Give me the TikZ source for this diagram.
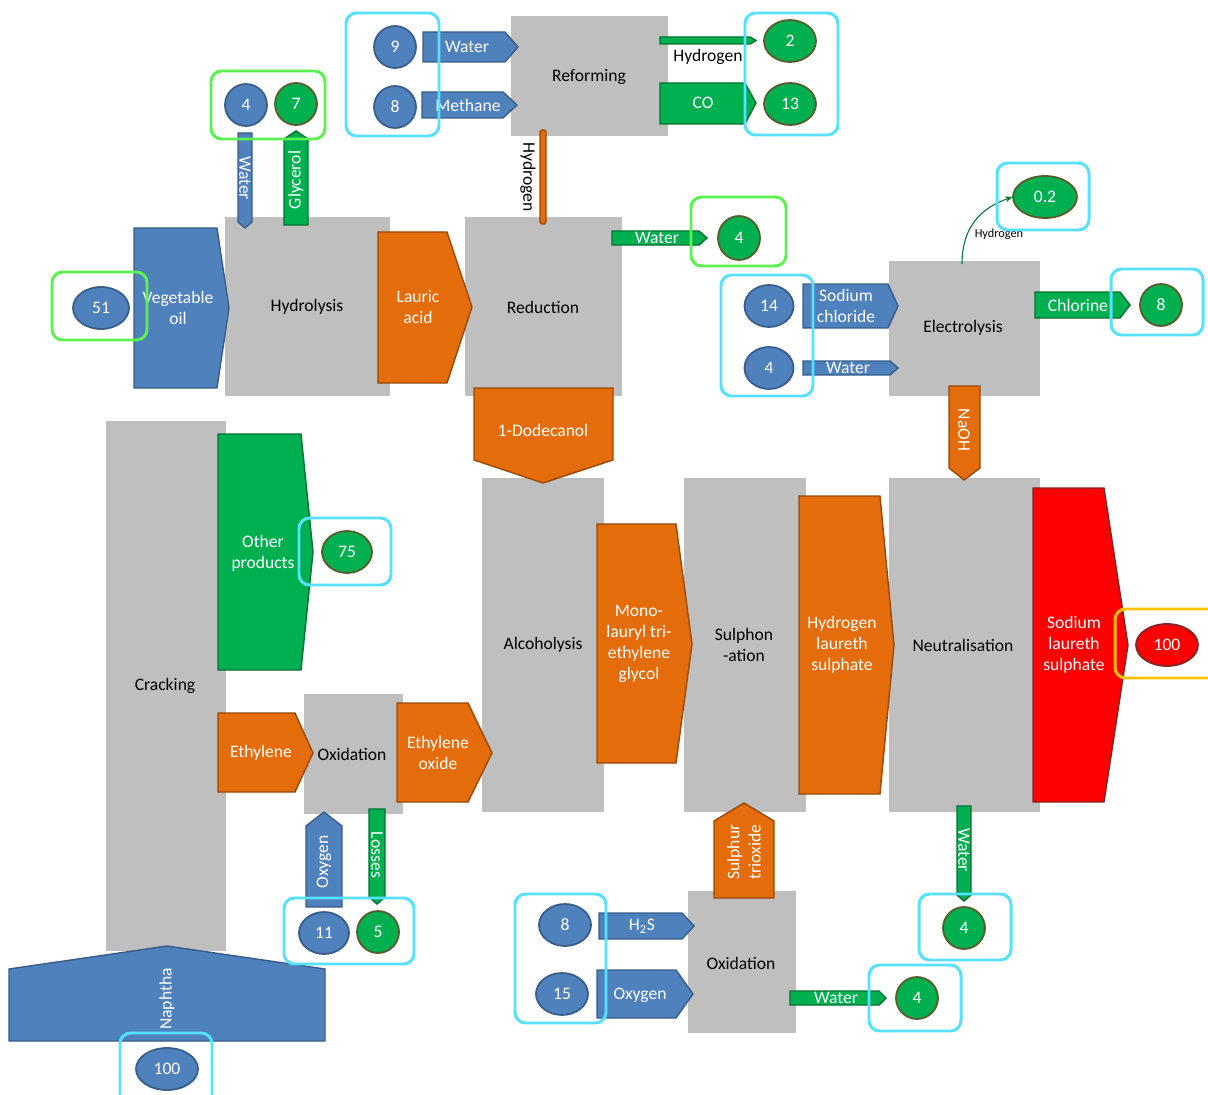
\documentclass[tikz,border=0pt]{standalone}
\usepackage{fontspec}
\setmainfont{Carlito}
\usetikzlibrary{arrows.meta, shapes.geometric}
\definecolor{procgray}{HTML}{BFBFBF}
\definecolor{feedblue}{HTML}{4F81BD}
\definecolor{feedline}{HTML}{385D8A}
\definecolor{sidegreen}{HTML}{00B050}
\definecolor{sideline}{HTML}{00712F}
\definecolor{ovalline}{HTML}{5A5A2A}
\definecolor{midorange}{HTML}{E46C0A}
\definecolor{midline}{HTML}{984807}
\definecolor{prodred}{HTML}{FF0000}
\definecolor{prodline}{HTML}{7F2626}
\definecolor{framecyan}{HTML}{55E1FF}
\definecolor{framegreen}{HTML}{5CF050}
\definecolor{frameamber}{HTML}{FFC000}
\tikzset{
  procbox/.style={fill=procgray, draw=none},
  feedarrow/.style={fill=feedblue, draw=feedline, line width=0.8pt},
  sidearrow/.style={fill=sidegreen, draw=sideline, line width=0.8pt},
  midarrow/.style={fill=midorange, draw=midline, line width=0.8pt},
  prodarrow/.style={fill=prodred, draw=prodline, line width=0.8pt},
  wlabel/.style={text=white, align=center},
  klabel/.style={text=black, align=center},
  oval/.style={ellipse, inner sep=0pt, minimum width=0.84cm, minimum height=0.84cm, text=white, line width=1pt},
  blueoval/.style={oval, fill=feedblue, draw=feedline},
  greenoval/.style={oval, fill=sidegreen, draw=ovalline},
  redoval/.style={oval, fill=prodred, draw=prodline},
  cyanframe/.style={draw=framecyan, line width=1.7pt, rounded corners=6pt},
  greenframe/.style={cyanframe, draw=framegreen},
  amberframe/.style={cyanframe, draw=frameamber},
}

\begin{document}
\begin{tikzpicture}[x=0.02cm, y=-0.02cm, font=\fontsize{10}{12}\selectfont]
  \useasboundingbox (0,0) rectangle (1208,1095);

  % Process units
  \fill[procbox] (511,16) rectangle (668,136);
  \fill[procbox] (225,217) rectangle (390,396);
  \fill[procbox] (465,217) rectangle (622,396);
  \fill[procbox] (889,261) rectangle (1040,396);
  \fill[procbox] (106,421) rectangle (226,951);
  \fill[procbox] (304,694) rectangle (403,814);
  \fill[procbox] (482,478) rectangle (604,812);
  \fill[procbox] (684,478) rectangle (806,812);
  \fill[procbox] (889,478) rectangle (1040,812);
  \fill[procbox] (688,891) rectangle (796,1033);
  \node[klabel] (reforming) at (589,77) {Reforming};
  \node[klabel] (hydrolysis) at (307,307) {Hydrolysis};
  \node[klabel] (reduction) at (543,307) {Reduction};
  \node[klabel] (electrolysis) at (963,328) {Electrolysis};
  \node[klabel] (cracking) at (165,686) {Cracking};
  \node[klabel] (oxidA) at (352,754) {Oxidation};
  \node[klabel] (alcoholysis) at (543,645) {Alcoholysis};
  \node[klabel] (sulphonation) at (744,645) {Sulphon\\-ation};
  \node[klabel] (neutral) at (963,645) {Neutralisation};
  \node[klabel] (oxidB) at (741,963) {Oxidation};

  % Feeds (blue)
  \draw[feedarrow] (423,32) -- (505,32) -- (518,47) -- (505,62) -- (423,62) -- cycle;
  \node[wlabel] (waterA) at (467,47) {Water};
  \draw[feedarrow] (422,92) -- (503,92) -- (517,105) -- (503,118) -- (422,118) -- cycle;
  \node[wlabel] (methane) at (468,105) {Methane};
  \draw[feedarrow] (134,228) -- (217,228) -- (229,308) -- (217,388) -- (134,388) -- cycle;
  \node[wlabel] (vegoil) at (178,308) {Vegetable\\oil};
  \draw[feedarrow] (238,133) -- (252,133) -- (252,222) -- (245,228) -- (238,222) -- cycle;
  \node[wlabel, rotate=-90] (waterB) at (245,178) {Water};
  \draw[feedarrow] (803,284) -- (888,284) -- (898,306) -- (888,328) -- (803,328) -- cycle;
  \node[wlabel] (nacl) at (846,306) {Sodium\\chloride};
  \draw[feedarrow] (803,361) -- (890,361) -- (898,368) -- (890,375) -- (803,375) -- cycle;
  \node[wlabel] (waterC) at (848,368) {Water};
  \draw[feedarrow] (306,907) -- (306,826) -- (324,812) -- (342,826) -- (342,907) -- cycle;
  \node[wlabel, rotate=90] (oxygenA) at (324,862) {Oxygen};
  \draw[feedarrow] (9,1041) -- (9,969) -- (167,946) -- (325,969) -- (325,1041) -- cycle;
  \node[wlabel, rotate=90] (naphtha) at (167,999) {Naphtha};
  \draw[feedarrow] (599,913) -- (682,913) -- (694,926) -- (682,939) -- (599,939) -- cycle;
  \node[wlabel] (hts) at (642,926) {H\textsubscript{2}S};
  \draw[feedarrow] (597,970) -- (676,970) -- (693,994) -- (676,1018) -- (597,1018) -- cycle;
  \node[wlabel] (oxygenB) at (640,995) {Oxygen};

  % By-products (green)
  \draw[sidearrow] (660,37) -- (750,37) -- (756,40.5) -- (750,44) -- (660,44) -- cycle;
  \node[klabel] (htwoA) at (708,57) {Hydrogen};
  \draw[sidearrow] (660,83) -- (745,83) -- (756,103) -- (745,124) -- (660,124) -- cycle;
  \node[wlabel] (co) at (703,103) {CO};
  \draw[sidearrow] (284,225) -- (284,139) -- (296,131) -- (308,139) -- (308,225) -- cycle;
  \node[wlabel, rotate=90] (glycerol) at (296,180) {Glycerol};
  \draw[sidearrow] (612,231) -- (699,231) -- (707,238) -- (699,245) -- (612,245) -- cycle;
  \node[wlabel] (waterD) at (657,238) {Water};
  \draw[sidearrow] (1035,292) -- (1120,292) -- (1130,305) -- (1120,318) -- (1035,318) -- cycle;
  \node[wlabel] (chlorine) at (1078,305) {Chlorine};
  \draw[sidearrow] (218,434) -- (301,434) -- (313,552) -- (301,670) -- (218,670) -- cycle;
  \node[wlabel] (other) at (263,553) {Other\\products};
  \draw[sidearrow] (369,809) -- (385,809) -- (385,897) -- (377,904) -- (369,897) -- cycle;
  \node[wlabel, rotate=-90] (losses) at (377,855) {Losses};
  \draw[sidearrow] (790,991) -- (879,991) -- (886,998) -- (879,1005) -- (790,1005) -- cycle;
  \node[wlabel] (waterE) at (836,998) {Water};
  \draw[sidearrow] (957,806) -- (971,806) -- (971,895) -- (964,901) -- (957,895) -- cycle;
  \node[wlabel, rotate=-90] (waterF) at (964,850) {Water};

  % Intermediates (orange)
  \draw[midarrow, rounded corners=1pt] (540,130) rectangle (546,224);
  \node[klabel, rotate=-90] (htwoB) at (528,177) {Hydrogen};
  \draw[midarrow] (378,232) -- (447,232) -- (472,307) -- (447,383) -- (378,383) -- cycle;
  \node[wlabel] (lauric) at (418,307) {Lauric\\acid};
  \draw[midarrow] (474,388) -- (613,388) -- (613,460) -- (543,483) -- (474,460) -- cycle;
  \node[wlabel] (dodecanol) at (543,430) {1-Dodecanol};
  \draw[midarrow] (949,386) -- (980,386) -- (980,468) -- (964,480) -- (949,468) -- cycle;
  \node[wlabel, rotate=-90] (naoh) at (964,430) {NaOH};
  \draw[midarrow] (597,524) -- (676,524) -- (692,644) -- (676,763) -- (597,763) -- cycle;
  \node[wlabel] (mlteg) at (639,644) {Mono-\\lauryl tri-\\ethylene\\glycol};
  \draw[midarrow] (799,496) -- (880,496) -- (894,645) -- (880,794) -- (799,794) -- cycle;
  \node[wlabel] (hls) at (842,645) {Hydrogen\\laureth\\sulphate};
  \draw[midarrow] (218,713) -- (295,713) -- (313,753) -- (295,792) -- (218,792) -- cycle;
  \node[wlabel] (ethylene) at (261,753) {Ethylene};
  \draw[midarrow] (397,703) -- (468,703) -- (492,753) -- (468,802) -- (397,802) -- cycle;
  \node[wlabel] (eo) at (438,753) {Ethylene\\oxide};
  \draw[midarrow] (714,898) -- (714,821) -- (744,803) -- (774,821) -- (774,898) -- cycle;
  \node[wlabel, rotate=90] (sothree) at (744,852) {Sulphur\\trioxide};

  % Product (red)
  \draw[prodarrow] (1033,488) -- (1104,488) -- (1128,645) -- (1104,802) -- (1033,802) -- cycle;
  \node[wlabel] (sls) at (1074,645) {Sodium\\laureth\\sulphate};

  % Quantities
  \node[blueoval] (q9) at (395,47) {9};
  \node[blueoval] (q8a) at (395,107) {8};
  \node[blueoval] (q4a) at (246,105) {4};
  \node[blueoval, minimum width=1.12cm] (q51) at (101,308) {51};
  \node[blueoval, minimum width=0.98cm] (q14) at (769,306) {14};
  \node[blueoval, minimum width=0.98cm] (q4b) at (769,368) {4};
  \node[blueoval, minimum width=1cm] (q11) at (324,933) {11};
  \node[blueoval, minimum width=1.24cm] (q100a) at (167,1069) {100};
  \node[blueoval, minimum width=1.04cm] (q8b) at (565,925) {8};
  \node[blueoval, minimum width=1.04cm] (q15) at (562,994) {15};
  \node[greenoval, minimum width=1.04cm] (q2) at (790,41) {2};
  \node[greenoval, minimum width=1.04cm] (q13) at (790,104) {13};
  \node[greenoval] (q7) at (296,104) {7};
  \node[greenoval, minimum height=0.88cm] (q4c) at (739,238) {4};
  \node[greenoval, minimum width=1.28cm] (q02) at (1045,197) {0.2};
  \node[greenoval] (q8c) at (1161,305) {8};
  \node[greenoval, minimum width=1cm] (q75) at (347,552) {75};
  \node[greenoval] (q5) at (378,932) {5};
  \node[greenoval] (q4d) at (964,928) {4};
  \node[greenoval] (q4e) at (917,998) {4};
  \node[redoval, minimum width=1.24cm] (q100b) at (1167,645) {100};

  % Hydrogen from electrolysis
  \coordinate (htwoout) at (962,264);
  \draw[-{Stealth[length=4pt, width=3.5pt]}, draw=sideline, line width=0.6pt] (htwoout) .. controls +(0,-45) and +(-22,8) .. (q02.west);
  \node[klabel, font=\fontsize{7}{8}\selectfont] (htwoC) at (999,234) {Hydrogen};

  % Frames
  \draw[cyanframe] (346,13) rectangle (439,136);
  \draw[cyanframe] (745,13) rectangle (838,135);
  \draw[cyanframe] (721,275) rectangle (813,396);
  \draw[cyanframe] (997,163) rectangle (1089,230);
  \draw[cyanframe] (1111,269) rectangle (1203,335);
  \draw[cyanframe] (299,518) rectangle (391,585);
  \draw[cyanframe] (284,898) rectangle (414,964);
  \draw[cyanframe] (120,1033) rectangle (212,1110);
  \draw[cyanframe] (515,894) rectangle (606,1023);
  \draw[cyanframe] (919,894) rectangle (1011,960);
  \draw[cyanframe] (869,965) rectangle (961,1031);
  \draw[greenframe] (211,71) rectangle (325,139);
  \draw[greenframe] (52,272) rectangle (147,340);
  \draw[greenframe] (691,197) rectangle (786,266);
  \draw[amberframe] (1115,609) rectangle (1235,678);
\end{tikzpicture}
\end{document}
